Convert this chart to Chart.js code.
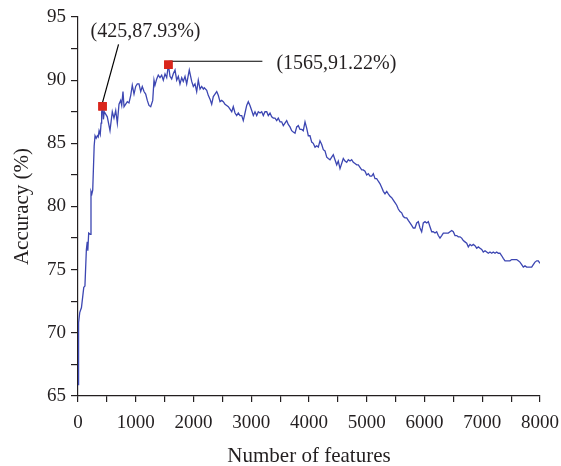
<!DOCTYPE html>
<html>
<head>
<meta charset="utf-8">
<script src="https://cdn.jsdelivr.net/npm/chart.js@4.4.1/dist/chart.umd.min.js"></script>
<style>
html,body{margin:0;padding:0;background:#fff;}
#wrap{width:561px;height:466px;position:relative;}
</style>
</head>
<body>
<div id="wrap"><canvas id="c" width="561" height="466"></canvas></div>
<script>
const features = [0,10,30,60,100,120,145,160,170,185,210,225,240,255,280,295,315,335,350,365,385,400,410,425,440,455,
507,554,594,623,653,681,710,739,757,779,797,854,883,913,940,970,999,1027,1056,1086,1113,1143,1172,1200,1229,1259,1294,
1316,1333,1363,1390,1420,1449,1477,1507,1536,1565,1593,1622,1650,1680,1709,1737,1766,1796,1823,1853,1882,1910,1927,1969,
1997,2026,2055,2083,2113,2142,2170,2187,2229,2256,2286,2315,2343,2372,2402,2429,2459,2488,2516,2545,2575,2603,2632,2662,
2689,2719,2748,2776,2805,2835,2862,2892,2921,2949,2978,3008,3036,3065,3094,3122,3152,3181,3209,3238,3268,3295,3325,3354,
3382,3411,3441,3468,3498,3527,3555,3584,3614,3641,3671,3700,3728,3758,3787,3815,3844,3874,3901,3931,3960,3988,4017,4047,
4074,4104,4133,4161,4190,4220,4248,4277,4307,4334,4364,4393,4421,4450,4480,4507,4537,4566,4594,4623,4653,4681,4710,4739,
4767,4797,4826,4854,4883,4913,4940,4970,4999,5027,5056,5086,5114,5143,5172,5200,5230,5259,5287,5316,5346,5373,5403,5432,
5460,5489,5519,5546,5576,5605,5633,5662,5692,5719,5749,5778,5806,5835,5865,5893,5922,5951,5979,6009,6038,6066,6095,6125,
6152,6182,6211,6239,6268,6298,6326,6355,6385,6412,6442,6471,6499,6528,6558,6585,6615,6644,6672,6701,6731,6759,6788,6817,
6845,6874,6904,6932,6961,6991,7018,7048,7077,7105,7134,7164,7191,7221,7250,7278,7307,7337,7364,7394,7423,7451,7480,7510,
7537,7567,7596,7624,7653,7683,7711,7740,7769,7797,7827,7856,7884,7913,7943,7971,8000];
const accuracy = [65.9,70.8,71.6,72.0,73.6,73.7,76.6,77.2,76.5,77.9,77.8,81.2,81.0,81.3,84.8,85.6,85.4,85.6,85.5,86.0,85.7,86.6,87.5,87.93,86.9,87.5,
87.1,86.0,87.5,87.0,87.6,86.6,88.1,88.4,88.0,89.1,87.9,88.3,88.2,88.8,89.6,88.9,89.5,89.7,89.7,89.1,89.5,89.1,88.9,88.4,88.0,87.9,88.4,
90.0,89.6,90.1,90.4,90.2,90.4,90.0,90.5,90.2,91.22,90.3,90.1,90.5,90.8,90.0,90.3,89.7,90.2,89.9,90.3,89.7,90.4,90.8,89.9,
89.5,89.7,89.1,90.0,89.3,89.5,89.3,89.4,89.2,88.8,88.5,88.1,88.7,88.9,89.1,88.8,88.3,88.4,88.3,88.1,88.0,87.9,87.7,87.5,
87.9,87.4,87.2,87.4,87.2,87.2,86.8,87.4,88.0,88.3,88.0,87.6,87.2,87.5,87.2,87.5,87.4,87.5,87.2,87.5,87.5,87.2,87.4,87.1,
87.0,87.0,86.8,87.0,86.7,86.7,86.4,86.6,86.8,86.5,86.3,86.0,85.9,85.8,86.3,86.4,86.1,86.1,86.0,86.7,86.2,85.6,85.6,85.1,
85.0,84.7,84.8,84.7,85.2,84.9,84.5,84.4,83.9,83.8,83.7,83.9,84.1,83.7,83.3,83.6,83.0,83.4,83.8,83.6,83.5,83.7,83.6,83.7,
83.5,83.4,83.3,83.3,83.1,82.9,82.9,82.8,82.5,82.6,82.4,82.4,82.6,82.2,82.2,82.0,81.8,81.5,81.2,81.0,81.2,81.0,80.8,80.7,
80.5,80.3,80.1,79.8,79.6,79.5,79.2,79.1,79.1,78.9,78.7,78.5,78.3,78.3,78.7,78.8,78.3,78.0,78.7,78.8,78.7,78.8,78.4,78.0,
78.0,77.9,78.0,77.7,77.5,77.7,77.9,77.9,77.9,77.9,78.0,78.1,78.0,77.7,77.7,77.6,77.6,77.5,77.3,77.2,77.1,76.8,77.0,76.9,
77.0,76.9,76.7,76.8,76.7,76.6,76.4,76.5,76.4,76.3,76.4,76.3,76.4,76.3,76.4,76.3,76.3,76.1,75.9,75.7,75.7,75.7,75.7,75.8,
75.8,75.8,75.8,75.7,75.6,75.4,75.2,75.3,75.2,75.2,75.2,75.2,75.4,75.6,75.7,75.7,75.5];
const markerFeatures = [425, 1565];
const markerAccuracy = [87.93, 91.22];
const markerLabels = ['(425,87.93%)', '(1565,91.22%)'];
const xTickLabels = ['0','1000','2000','3000','4000','5000','6000','7000','8000'];
const yTickLabels = ['65','70','75','80','85','90','95'];

const FONT = '"Liberation Serif", "Times New Roman", serif';
const INK = '#231f20';

const lineData = features.map((f, i) => ({x: f, y: accuracy[i]}));
const markerData = markerFeatures.map((f, i) => ({x: f, y: markerAccuracy[i]}));

const annotate = {
  id: 'annotate',
  afterDatasetsDraw(chart) {
    const ctx = chart.ctx;
    const pts = chart.getDatasetMeta(1).data;
    ctx.save();
    ctx.strokeStyle = '#000';
    ctx.lineWidth = 1.2;
    ctx.fillStyle = INK;
    ctx.font = '20px ' + FONT;
    let p = pts[0];
    ctx.beginPath();
    ctx.moveTo(p.x, p.y - 4);
    ctx.lineTo(p.x + 16, p.y - 62);
    ctx.stroke();
    ctx.textAlign = 'center';
    ctx.textBaseline = 'middle';
    ctx.fillText(markerLabels[0], p.x + 43, p.y - 75);
    p = pts[1];
    ctx.beginPath();
    ctx.moveTo(p.x + 1, p.y - 3.5);
    ctx.lineTo(p.x + 94, p.y - 3.5);
    ctx.stroke();
    ctx.textAlign = 'left';
    ctx.fillText(markerLabels[1], p.x + 108, p.y - 1.5);
    ctx.restore();
    chart.getDatasetMeta(1).data.forEach(el => el.draw(ctx));
  }
};

new Chart(document.getElementById('c'), {
  type: 'line',
  data: {
    datasets: [
      {data: lineData, borderColor: '#3c46b2', borderWidth: 1.3, pointRadius: 0, fill: false, tension: 0},
      {data: markerData, showLine: false, pointStyle: 'rect', pointRadius: 6, pointBackgroundColor: '#d9261c', pointBorderWidth: 0, pointBorderColor: '#d9261c'}
    ]
  },
  options: {
    responsive: false,
    animation: false,
    events: [],
    layout: {padding: {left: 0, right: 21, top: 17, bottom: 0}},
    plugins: {legend: {display: false}, tooltip: {enabled: false}},
    scales: {
      x: {
        type: 'linear', min: 0, max: 8000,
        border: {color: INK, width: 1.2},
        grid: {drawOnChartArea: false, drawTicks: true, tickLength: 6, color: INK, lineWidth: 1.2},
        ticks: {
          stepSize: 500, autoSkip: false, maxRotation: 0, padding: 10, color: INK,
          font: {family: FONT, size: 19},
          callback: (v) => (v % 1000 === 0 ? xTickLabels[v / 1000] : '')
        },
        title: {display: true, text: 'Number of features', color: INK, font: {family: FONT, size: 21}, padding: {top: 12, bottom: -3}},
        afterFit: (s) => { s.height = 70; s.paddingLeft = 0; s.paddingRight = 0; }
      },
      y: {
        type: 'linear', min: 65, max: 95,
        border: {color: INK, width: 1.2},
        grid: {drawOnChartArea: false, drawTicks: true, tickLength: 7, color: INK, lineWidth: 1.2},
        ticks: {
          stepSize: 2.5, autoSkip: false, padding: 5, color: INK,
          font: {family: FONT, size: 19},
          callback: (v) => (v % 5 === 0 ? yTickLabels[(v - 65) / 5] : '')
        },
        title: {display: true, text: 'Accuracy (%)', color: INK, font: {family: FONT, size: 21}, padding: {top: 10, bottom: 4}},
        afterFit: (s) => { s.width = 78; s.paddingTop = 0; s.paddingBottom = 0; }
      }
    }
  },
  plugins: [annotate]
});
</script>
</body>
</html>
